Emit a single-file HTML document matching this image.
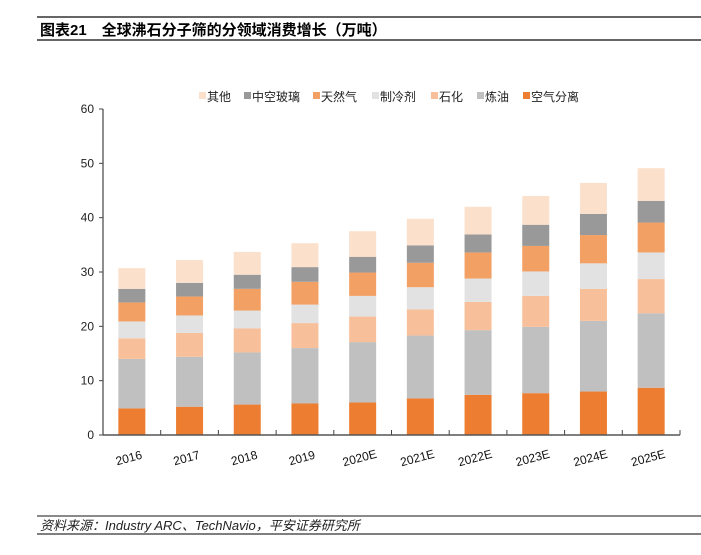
<!DOCTYPE html>
<html><head><meta charset="utf-8"><style>
body{margin:0;background:#fff;width:701px;height:555px;overflow:hidden;font-family:"Liberation Sans","Noto Sans CJK SC",sans-serif;}
</style></head><body>
<svg width="701" height="555" xmlns="http://www.w3.org/2000/svg" style="position:absolute;left:0;top:0">
<line x1="37" y1="17" x2="701" y2="17" stroke="#333" stroke-width="1.5"/>
<line x1="37" y1="40" x2="701" y2="40" stroke="#333" stroke-width="1.5"/>
<text x="40" y="35" font-size="15" font-weight="bold" fill="#000" font-family="Liberation Sans,Noto Sans CJK SC,sans-serif">图表21　全球沸石分子筛的分领域消费增长（万吨）</text>
<line x1="37" y1="516" x2="701" y2="516" stroke="#444" stroke-width="1.2"/>
<line x1="37" y1="534" x2="701" y2="534" stroke="#555" stroke-width="1.5"/>
<text x="40" y="530" font-size="13" font-style="italic" fill="#222" font-family="Liberation Sans,Noto Sans CJK SC,sans-serif">资料来源：Industry ARC、TechNavio，平安证券研究所</text>
<g id="plot"></g>
</svg>
<script>
const categories=["2016","2017","2018","2019","2020E","2021E","2022E","2023E","2024E","2025E"];
const airSep=[4.9,5.2,5.6,5.8,6.0,6.75,7.4,7.7,8.0,8.7];
const refining=[9.1,9.2,9.6,10.2,11.1,11.55,11.9,12.2,13.0,13.7];
const petrochem=[3.8,4.4,4.4,4.6,4.7,4.8,5.2,5.7,5.9,6.3];
const refrigerant=[3.1,3.2,3.3,3.4,3.8,4.1,4.3,4.5,4.7,4.9];
const natGas=[3.5,3.5,4.0,4.2,4.3,4.5,4.8,4.7,5.2,5.5];
const insGlass=[2.5,2.5,2.6,2.7,2.9,3.2,3.3,3.9,3.9,4.0];
const other=[3.8,4.2,4.2,4.4,4.7,4.9,5.1,5.3,5.7,6.0];
const yTicks=[0,10,20,30,40,50,60];
const series=[
 {name:"空气分离",vals:airSep,c:"#ed7d31",key:"air-separation"},
 {name:"炼油",vals:refining,c:"#c0c0c0",key:"refining"},
 {name:"石化",vals:petrochem,c:"#f8c09a",key:"petrochemical"},
 {name:"制冷剂",vals:refrigerant,c:"#e2e2e2",key:"refrigerant"},
 {name:"天然气",vals:natGas,c:"#f3a064",key:"natural-gas"},
 {name:"中空玻璃",vals:insGlass,c:"#999999",key:"insulated-glass"},
 {name:"其他",vals:other,c:"#fbe0cc",key:"other"}
];
const NS="http://www.w3.org/2000/svg";
const g=document.getElementById('plot');
const X0=103,X1=680,Y0=435,Y1=109,YMAX=60;
const y=v=>Y0-(v/YMAX)*(Y0-Y1);
const band=(X1-X0)/categories.length;
const xc=i=>X0+band*(i+0.5);
const bw=27;
function mk(t,a){const e=document.createElementNS(NS,t);for(const k in a)e.setAttribute(k,a[k]);g.appendChild(e);return e;}
yTicks.forEach(t=>{
 const l=mk('line',{x1:X0-4,x2:X0,y1:y(t),y2:y(t),stroke:'#444'});
 
 
 const tx=mk('text',{x:X0-9,y:y(t)+4,'text-anchor':'end','font-size':'12',fill:'#222'});
 tx.textContent=t;
 
 
});
categories.forEach((c,i)=>{
 let acc=0;
 series.forEach(s=>{
  const v=s.vals[i];
  const r=mk('rect',{x:xc(i)-bw/2,y:y(acc+v),width:bw,height:y(acc)-y(acc+v),fill:s.c});
  
  
  acc+=v;
 });
 const tk=mk('line',{x1:X0+band*(i+1),x2:X0+band*(i+1),y1:Y0,y2:Y0-5,stroke:'#444'});
 
 
 const lb=mk('text',{x:xc(i)-3,y:462,'text-anchor':'middle','font-size':'12',fill:'#111',transform:`rotate(-15 ${xc(i)-3} 458)`});
 lb.textContent=c;
 
 
});
const ax=mk('line',{x1:X0,x2:X0,y1:Y1,y2:Y0,stroke:'#444','stroke-width':1.2});


const axx=mk('line',{x1:X0,x2:X1,y1:Y0,y2:Y0,stroke:'#555','stroke-width':1.5});


// legend
const leg=[...series].reverse();
const lx=[199,244,313,372,431,477,523];
leg.forEach((s,i)=>{
 const r=mk('rect',{x:lx[i],y:92,width:7,height:7,fill:s.c});
 
 
 const t=mk('text',{x:lx[i]+8,y:101,'font-size':'12',fill:'#222'});
 t.textContent=s.name;
 
 
});
</script>
</body></html>
